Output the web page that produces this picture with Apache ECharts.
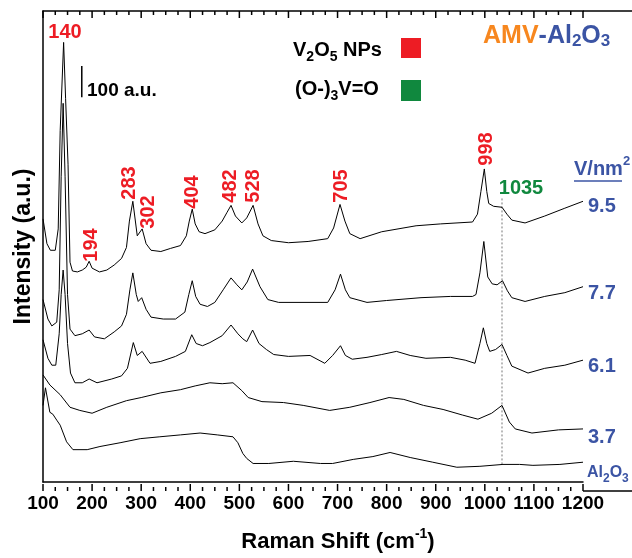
<!DOCTYPE html>
<html><head><meta charset="utf-8">
<script src="https://cdn.jsdelivr.net/npm/echarts@6.0.0/dist/echarts.min.js"></script>
<style>html,body{margin:0;padding:0;background:#fff}#c{width:632px;height:558px}</style>
</head><body><div id="c"></div>
<script>
// ---- data (Raman shift in cm-1, intensity in a.u., traces stacked as plotted) ----
const wn95 = [100,108,115,125,131,135,142,146,151,155,160,170,180,188,194,200,215,230,245,260,270,276,283,292,302,310,320,340,360,380,392,398,404,410,418,430,450,465,475,483,492,505,515,528,538,548,565,600,640,680,692,705,715,725,746,790,860,910,975,985,992,999,1004,1008,1018,1035,1045,1055,1082,1122,1163,1200];
const int95 = [838,759,738,738,806,1119,1400,1222,1012,700,672,669,675,684,703,681,669,675,691,712,747,831,894,784,806,759,738,734,744,753,784,831,869,822,797,791,803,831,859,881,847,825,841,881,822,784,769,762,766,775,809,884,831,791,775,797,816,822,828,853,925,997,925,887,878,875,853,834,825,847,872,894];

const wn77 = [100,110,118,128,133,137,141,145,150,155,165,180,194,205,225,245,260,270,277,283,290,294,301,310,320,345,370,389,397,404,411,420,435,450,467,483,495,505,516,527,542,558,580,650,680,695,706,716,725,760,800,870,930,975,982,990,998,1006,1015,1025,1036,1046,1055,1082,1122,1163,1200];
const int77 = [581,519,497,509,612,972,1206,972,597,487,466,472,484,462,456,478,497,534,612,666,597,575,587,550,525,519,519,541,597,641,591,566,559,572,612,650,628,612,637,678,622,581,572,572,572,612,662,612,587,572,578,587,591,591,597,666,766,653,631,628,641,609,587,575,591,603,622];

const wn61 = [100,110,118,126,133,137,141,145,150,156,165,180,194,210,240,260,272,284,292,302,318,340,370,390,403,412,425,440,465,483,497,507,515,527,540,555,570,600,644,674,690,706,716,730,760,790,820,848,880,930,960,980,990,997,1004,1010,1022,1035,1045,1055,1088,1122,1163,1200];
const int61 = [453,394,372,372,472,597,675,597,441,347,316,316,328,316,328,338,362,444,403,416,378,384,400,416,469,441,434,444,466,500,472,456,447,484,441,422,406,400,403,378,403,434,403,391,397,406,416,403,394,397,388,378,441,491,441,416,422,438,403,369,347,362,372,388];

const wn37 = [100,114,135,155,175,200,230,270,300,340,380,410,440,465,487,505,518,546,590,630,684,725,766,805,835,875,915,955,986,1014,1035,1050,1062,1096,1150,1200];
const int37 = [341,309,278,238,228,219,238,259,269,284,294,306,316,313,316,291,269,256,253,244,228,238,253,269,263,244,231,213,200,219,244,191,169,156,166,169];

const wnAl = [100,105,108,114,120,128,135,148,161,190,216,257,298,338,380,420,455,487,497,507,515,528,560,610,665,690,732,772,807,848,894,943,990,1037,1071,1098,1153,1200];
const intAl = [244,300,306,222,216,197,181,128,103,103,113,125,138,144,150,156,150,144,125,91,75,59,59,66,59,59,72,81,94,78,63,47,50,56,56,53,56,63];

// guide line at 1035 cm-1 and the 100 a.u. scale bar
const guideX = [1035, 1035];
const guideY = [56, 909];
const barX = [179, 179];
const barY = [1225, 1325];

const xTicks = [100, 1200, 100];   // min, max, interval
const minorStep = 25;
const peakLabels = ['140','194','283','302','404','482','528','705','998','1035'];
const loadLabels = ['9.5','7.7','6.1','3.7','Al2O3'];

// ---- chart ----
const FF = '"Liberation Sans", Arial, Helvetica, sans-serif';
const RED = '#ed1c24', GREEN = '#10883e', BLUE = '#3b54a4', ORANGE = '#f7871f';
const W = 632, GL = 43, GR = 49, GT = 11, GH = 480;
const chart = echarts.init(document.getElementById('c'), null, {renderer: 'canvas'});
const zip = (xs, ys) => xs.map((x, i) => [x, ys[i]]);

const spectra = [[wn95, int95], [wn77, int77], [wn61, int61], [wn37, int37], [wnAl, intAl]];
const series = spectra.map((s, i) => ({
  type: 'line', name: loadLabels[i], data: zip(s[0], s[1]), symbol: 'none',
  lineStyle: {color: '#000', width: 1}, z: 3
}));
series.push({type: 'line', data: zip(guideX, guideY), symbol: 'none',
  lineStyle: {color: '#777', width: 1, type: [2, 2]}, z: 2});
series.push({type: 'line', data: zip(barX, barY), symbol: 'none',
  lineStyle: {color: '#000', width: 1.5}, z: 3});

const frameLine = {show: true, onZero: false, lineStyle: {color: '#000', width: 1.5}};
function xAxisDef(pos, opts) {
  return Object.assign({
    type: 'value', position: pos, min: xTicks[0], max: xTicks[1], interval: xTicks[2],
    axisLine: frameLine, axisTick: {show: false}, minorTick: {show: false},
    splitLine: {show: false}, minorSplitLine: {show: false}, axisLabel: {show: false}
  }, opts);
}
const bottomAxis = xAxisDef('bottom', {
  axisLabel: {show: true, color: '#000', fontFamily: FF, fontWeight: 'bold', fontSize: 19,
    margin: 12, showMinLabel: true, showMaxLabel: true, formatter: v => String(v)},
  name: '{m|Raman Shift (cm}{p|-1}{m|)}', nameLocation: 'middle', nameGap: 45,
  nameTextStyle: {padding: [0, 0, 0, 50], rich: {
    m: {fontSize: 22, fontWeight: 'bold', fontFamily: FF, color: '#000', lineHeight: 30, verticalAlign: 'middle'},
    p: {fontSize: 14, fontWeight: 'bold', fontFamily: FF, color: '#000', lineHeight: 18, verticalAlign: 'top'}}}
});
const topAxis = xAxisDef('top', {});

const bold = (size, fill) => ({fontSize: size, fontWeight: 'bold', fontFamily: FF, fill: fill || '#000'});
function sub(size, fill) { return Object.assign(bold(size, fill), {lineHeight: 10, verticalAlign: 'bottom'}); }
function main(size, fill) { return Object.assign(bold(size, fill), {lineHeight: 28, verticalAlign: 'middle'}); }

function plain(x, y, text, size, fill, align, rot) {
  return {type: 'text', x: x, y: y, rotation: rot || 0, z: 10,
    style: {text: text, font: 'bold ' + size + 'px ' + FF, fill: fill, align: align || 'center', verticalAlign: 'middle'}};
}
function rich(x, y, text, richDef, align) {
  return {type: 'text', x: x, y: y, z: 10,
    style: {text: text, rich: richDef, align: align || 'left', verticalAlign: 'middle'}};
}
function seg(x1, y1, x2, y2, color, w) {
  return {type: 'line', z: 10, shape: {x1: x1, y1: y1, x2: x2, y2: y2}, style: {stroke: color, lineWidth: w}};
}
function box(x, y, w, h, fill) {
  return {type: 'rect', z: 10, shape: {x: x, y: y, width: w, height: h}, style: {fill: fill}};
}

// x position of a Raman shift through the axis scale (falls back to the grid's linear scale)
function xPix(v) {
  let p = null;
  try { p = chart.convertToPixel({gridIndex: 0}, [v, 0]); } catch (e) { p = null; }
  if (p && isFinite(p[0])) return p[0];
  return GL + (v - xTicks[0]) / (xTicks[1] - xTicks[0]) * (W - GL - GR);
}

const R = Math.PI / 2;
const graphics = [
  plain(65, 32, peakLabels[0], 20, RED),
  plain(91, 245, peakLabels[1], 20, RED, 'center', R),
  plain(129.5, 183, peakLabels[2], 20, RED, 'center', R),
  plain(148, 212, peakLabels[3], 20, RED, 'center', R),
  plain(192, 192, peakLabels[4], 20, RED, 'center', R),
  plain(230, 186, peakLabels[5], 20, RED, 'center', R),
  plain(253, 186, peakLabels[6], 20, RED, 'center', R),
  plain(341, 186, peakLabels[7], 20, RED, 'center', R),
  plain(486, 149, peakLabels[8], 20, RED, 'center', R),
  plain(521, 188, peakLabels[9], 20, GREEN),
  plain(87, 90.5, '100 a.u.', 19, '#000', 'left'),
  rich(293, 50.5, '{m|V}{s|2}{m|O}{s|5}{m| NPs}', {m: main(20), s: sub(14)}),
  rich(295, 89.5, '{m|(O-)}{s|3}{m|V=O}', {m: main(20), s: sub(14)}),
  box(401, 38, 20, 20, RED),
  box(401, 80, 20, 21, GREEN),
  rich(483, 36, '{o|AMV}{b|-Al}{bs|2}{b|O}{bs|3}', {o: main(25, ORANGE), b: main(25, BLUE), bs: sub(17, BLUE)}),
  rich(574, 169, '{m|V/nm}{p|2}', {m: main(20, BLUE), p: Object.assign(bold(13, BLUE), {lineHeight: 18, verticalAlign: 'top'})}),
  seg(574, 181, 622, 181, BLUE, 1.5),
  plain(588, 206, loadLabels[0], 20, BLUE, 'left'),
  plain(588, 293, loadLabels[1], 20, BLUE, 'left'),
  plain(588, 366, loadLabels[2], 20, BLUE, 'left'),
  plain(588, 437, loadLabels[3], 20, BLUE, 'left'),
  rich(587, 473, '{m|Al}{s|2}{m|O}{s|3}', {m: Object.assign(bold(16, BLUE), {lineHeight: 24, verticalAlign: 'middle'}), s: sub(12, BLUE)}),
  seg(W - GR, GT + GH, W, GT + GH, '#000', 1.5),
  seg(W - GR, GT, W, GT, '#000', 1.5)
];

chart.setOption({
  animation: false,
  backgroundColor: '#fff',
  grid: {left: GL, right: GR, top: GT, height: GH, containLabel: false},
  xAxis: [bottomAxis, topAxis],
  yAxis: {
    type: 'value', min: 0, max: 1500,
    axisLine: {show: true, onZero: false, lineStyle: {color: '#000', width: 1.5}},
    axisTick: {show: false}, axisLabel: {show: false}, splitLine: {show: false},
    name: 'Intensity (a.u.)', nameLocation: 'middle', nameGap: 8,
    nameTextStyle: {fontSize: 23, fontWeight: 'bold', fontFamily: FF, color: '#000'}
  },
  series: series
});

// inward-pointing major/minor ticks on the bottom and top frame lines (thin filled bars)
for (let v = xTicks[0]; v <= xTicks[1]; v += minorStep) {
  const px = xPix(v);
  const len = (v - xTicks[0]) % xTicks[2] === 0 ? 7 : 4;
  graphics.push(box(px - 0.75, GT + GH - len, 1.5, len, '#000'));
  graphics.push(box(px - 0.75, GT, 1.5, len, '#000'));
}
chart.setOption({graphic: {elements: graphics}});
</script>
</body></html>
